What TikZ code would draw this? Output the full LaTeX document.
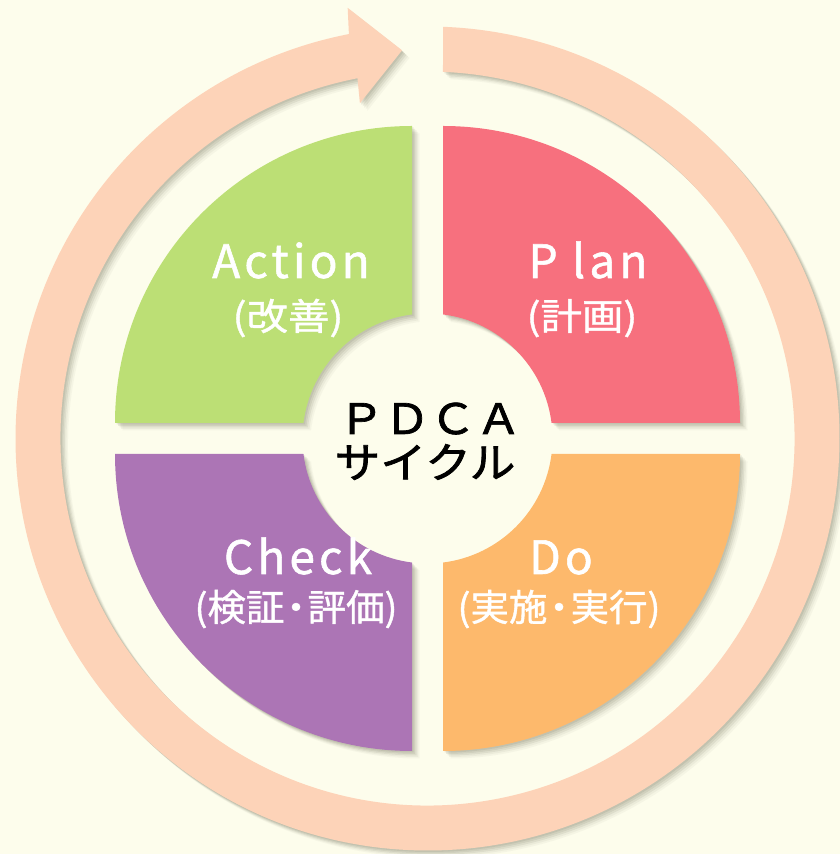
\documentclass[tikz,border=0pt]{standalone}
\usepackage{fontspec}
\setmainfont{Noto Sans CJK JP}
\newfontfamily\jpfont[FakeBold=1.0]{Noto Sans CJK JP}
\newfontfamily\ctrfont[FakeBold=1.6]{Noto Sans CJK JP}
\newfontfamily\latfont[LetterSpace=9, FakeBold=1.2]{Noto Sans CJK JP}
\usetikzlibrary{calc}
\definecolor{bgc}{HTML}{FDFDEC}
\definecolor{ringc}{HTML}{FDD3B8}
\definecolor{planc}{HTML}{F7707E}
\definecolor{doc}{HTML}{FDB96C}
\definecolor{checkc}{HTML}{AC75B5}
\definecolor{actionc}{HTML}{BCDF75}
\definecolor{shadowc}{HTML}{6E6E58}
\newcommand\hx[2]{\scalebox{#1}[1]{#2}}
\def\ringpath{(87.84:412) arc[start angle=87.84,end angle=-259,radius=412]
  -- (-259.5:438) -- (-266.25:389) -- (-258.6:342) -- (-259:367)
  arc[start angle=-259,end angle=87.58,radius=367] -- cycle}
\def\sectorpath{(15.5,312.5) arc[start angle=90,end angle=0,radius=297]
  -- (124.04,15.5) arc[start angle=7.12,end angle=82.88,radius=125] -- cycle}
\tikzset{
  latlabel/.style={text=white, font=\latfont\fontsize{46}{46}\selectfont, anchor=base, inner sep=0pt},
  jplabel/.style={text=white, font=\jpfont\fontsize{37}{40}\selectfont, anchor=base, inner sep=0pt},
  centertext/.style={text=black, font=\ctrfont\fontsize{42}{44}\selectfont, anchor=base, inner sep=0pt},
}
\begin{document}
\begin{tikzpicture}[x=1pt,y=1pt]
\fill[bgc] (0,0) rectangle (840,854);
\useasboundingbox (0,0) rectangle (840,854);
% soft shadows
\foreach \s/\o in {1.5/0.14, 3/0.12, 4.5/0.10, 6/0.07, 7.5/0.05} {
  \begin{scope}[shift={(427.5+\s,415.5-\s)}]
    \fill[shadowc, opacity=\o] \ringpath;
    \foreach \r in {0,-90,-180,-270} {
      \fill[shadowc, opacity=\o, rotate=\r] \sectorpath;
    }
  \end{scope}
}
% ring arrow and the four sectors
\begin{scope}[shift={(427.5,415.5)}]
  \fill[ringc] \ringpath;
  \fill[planc] \sectorpath;
  \fill[doc, rotate=-90] \sectorpath;
  \fill[checkc, rotate=-180] \sectorpath;
  \fill[actionc, rotate=90] \sectorpath;
\end{scope}
% labels
\node[latlabel] (action) at (291,576) {Action};
\node[jplabel] (actionjp) at (288,524) {\hx{1.12}{(改善)}};
\node[latlabel] (plan) at (588,576) {P lan};
\node[jplabel] (planjp) at (582,524) {\hx{1.12}{(計画)}};
\node[latlabel] (check) at (298,280) {Check};
\node[jplabel] (checkjp) at (296,233) {\hx{1.04}{(検証\kern-0.2em・\kern-0.2em評価)}};
\node[latlabel] (do) at (561,280) {Do};
\node[jplabel] (dojp) at (559,233) {\hx{1.04}{(実施\kern-0.2em・\kern-0.2em実行)}};
\node[centertext] (pdca) at (430,420) {\hx{1.09}{ＰＤＣＡ}};
\node[centertext] (cyc) at (425,376) {\hx{1.09}{サイクル}};
\end{tikzpicture}
\end{document}
